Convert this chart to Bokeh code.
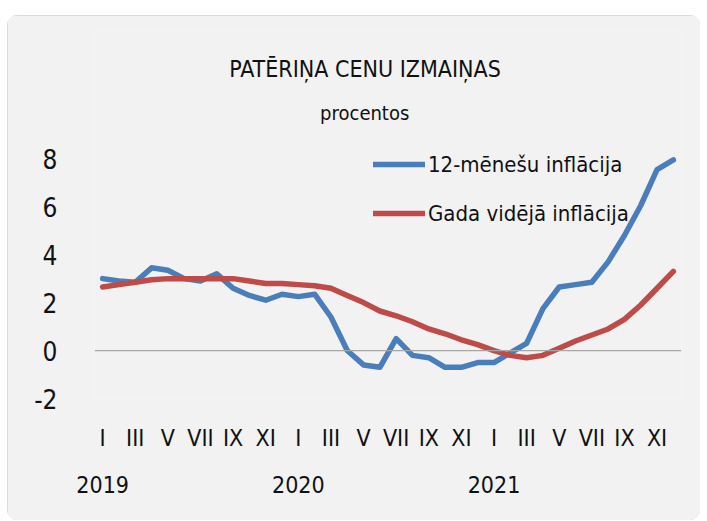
from bokeh.plotting import figure
from bokeh.models import Range1d, FixedTicker, LinearAxis, Span, Label, Legend, LegendItem, Spacer
from bokeh.layouts import column, row
from bokeh.embed import file_html
from bokeh.resources import INLINE

months = list(range(36))  # Jan 2019 .. Dec 2021
roman = ["I", "II", "III", "IV", "V", "VI", "VII", "VIII", "IX", "X", "XI", "XII"]
years = ["2019", "2020", "2021"]

infl_12m = [3.0, 2.9, 2.85, 3.45, 3.35, 3.0, 2.9, 3.2, 2.6, 2.3, 2.1, 2.35,
            2.25, 2.35, 1.4, 0.0, -0.6, -0.7, 0.5, -0.2, -0.3, -0.7, -0.7, -0.5,
            -0.5, -0.1, 0.3, 1.75, 2.65, 2.75, 2.85, 3.7, 4.8, 6.05, 7.55, 7.95]
infl_avg = [2.65, 2.75, 2.85, 2.95, 3.0, 3.0, 3.0, 3.0, 3.0, 2.9, 2.8, 2.8,
            2.75, 2.7, 2.6, 2.3, 2.0, 1.65, 1.45, 1.2, 0.9, 0.7, 0.45, 0.25,
            0.0, -0.2, -0.3, -0.2, 0.1, 0.4, 0.65, 0.9, 1.3, 1.9, 2.6, 3.3]

y_ticks = [-2, 0, 2, 4, 6, 8]
y_labels = ["-2", "0", "2", "4", "6", "8"]

series_names = ["12-mēnešu inflācija", "Gada vidējā inflācija"]
title_text = "PATĒRIŅA CENU IZMAIŅAS"
subtitle_text = "procentos"

FONT = "DejaVu Sans Condensed"
TXT = "#111111"
BG = "#F2F2F2"

p = figure(width=693, height=505, x_range=Range1d(-0.5, 35.5), y_range=Range1d(-2, 13.35),
           output_backend="svg", toolbar_location=None, title=None,
           min_border_left=87, min_border_right=19, min_border_top=15, min_border_bottom=122,
           background_fill_color=BG, border_fill_color=BG, outline_line_color=None)
p.styles = {"outline": "1px solid #D4D4D4", "outline-offset": "-1px",
            "border-radius": "10px", "overflow": "hidden"}

p.xgrid.grid_line_color = None
p.ygrid.grid_line_color = None

def style_axis(ax, standoff, size):
    ax.axis_line_color = None
    ax.major_tick_line_color = None
    ax.major_tick_out = 0
    ax.major_tick_in = 0
    ax.minor_tick_line_color = None
    ax.major_label_standoff = standoff
    ax.major_label_text_font = FONT
    ax.major_label_text_font_size = size
    ax.major_label_text_color = TXT

p.yaxis.ticker = FixedTicker(ticks=y_ticks)
p.yaxis.major_label_overrides = {t: l for t, l in zip(y_ticks, y_labels)}
style_axis(p.yaxis[0], 37, "26px")

mticks = [m for m in months if m % 2 == 0]
p.xaxis.ticker = FixedTicker(ticks=mticks)
p.xaxis.major_label_overrides = {m: roman[m % 12] for m in mticks}
style_axis(p.xaxis[0], 26, "23px")

yticks_pos = [m for m in months if m % 12 == 0]
yax = LinearAxis(ticker=FixedTicker(ticks=yticks_pos),
                 major_label_overrides={m: years[m // 12] for m in yticks_pos})
style_axis(yax, 22, "23px")
p.add_layout(yax, "below")

p.add_layout(Span(location=0, dimension="width", line_color="#A6A6A6", line_width=1.2))

r1 = p.line(months, infl_12m, line_color="#4A7EBB", line_width=5.5,
            line_join="round", line_cap="round")
r2 = p.line(months, infl_avg, line_color="#BE4B48", line_width=5.5,
            line_join="round", line_cap="round")

legend = Legend(items=[LegendItem(label=series_names[0], renderers=[r1]),
                       LegendItem(label=series_names[1], renderers=[r2])],
                location=(279, 170), padding=0, spacing=19, glyph_width=52,
                glyph_height=30, label_height=30, label_standoff=3,
                label_text_font=FONT, label_text_font_size="22px", label_text_color=TXT,
                border_line_color=None, background_fill_alpha=0)
p.add_layout(legend)

p.add_layout(Label(x=270.5, y=329.5, x_units="screen", y_units="screen", text=title_text,
                   text_align="center", text_baseline="alphabetic", text_font=FONT,
                   text_font_size="23px", text_color=TXT))
p.add_layout(Label(x=270.2, y=286, x_units="screen", y_units="screen", text=subtitle_text,
                   text_align="center", text_baseline="alphabetic", text_font=FONT,
                   text_font_size="20px", text_color=TXT))

layout = column(Spacer(width=700, height=15), row(Spacer(width=7, height=505), p))
open("out.html", "w").write(file_html(layout, INLINE))
